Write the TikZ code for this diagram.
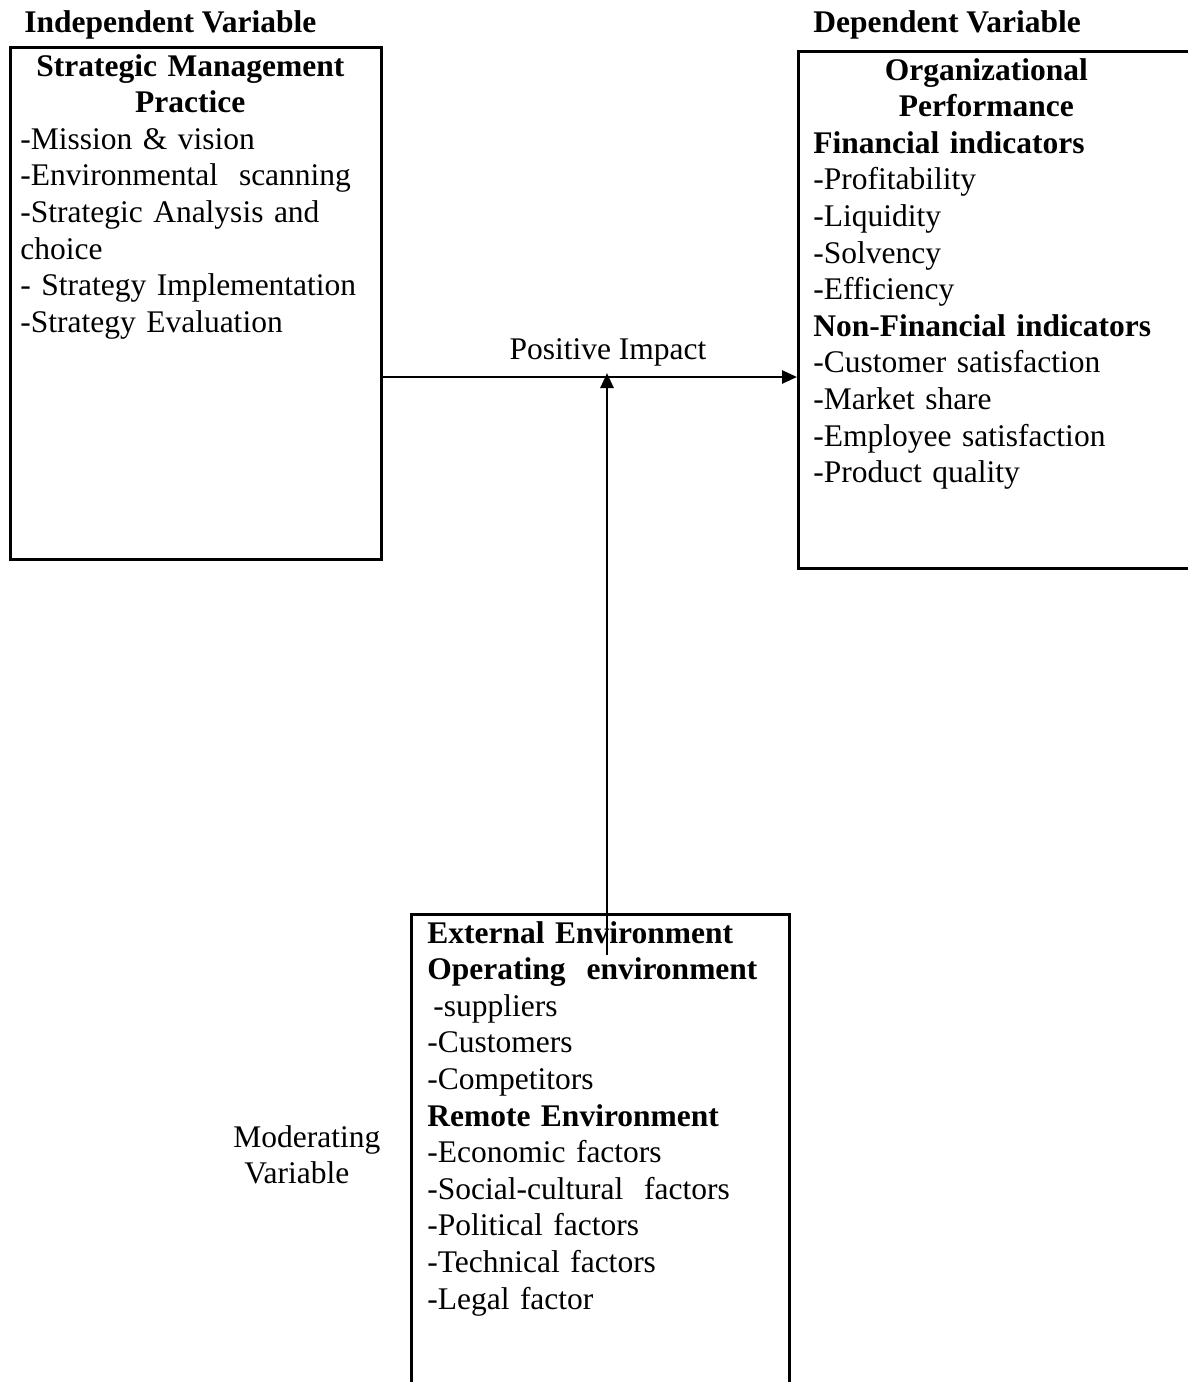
\documentclass[tikz,border=0pt]{standalone}
\usepackage{fontspec}
\setmainfont{Liberation Serif}
\usetikzlibrary{arrows.meta}

\begin{document}
\begin{tikzpicture}
[x = 1pt, y = -1pt, line width = 2.6pt,
  box/.style = {draw, anchor = north west, inner sep = 0pt},
  txt/.style = {anchor = base west, inner sep = 0pt, align = left,
    font = \fontsize{31.5}{36.6}\selectfont},
  arr/.style = {-{Triangle[length = 15pt, width = 13pt]}}]
  \clip (0,0) rectangle (1188,1382);
  \fill[white] (0,0) rectangle (1188,1382);

  % the three boxes
  \node[box, minimum width = 371pt, minimum height = 512pt] (smp) at (9,46) {};
  \node[box, minimum width = 420pt, minimum height = 517pt] (perf) at (797,50) {};
  \node[box, minimum width = 378pt, minimum height = 520pt] (env) at (410,913) {};

  \node[txt] (indep) at (23,32) {\textbf{Independent Variable}};
  \node[txt] (dep) at (812,32) {\textbf{Dependent Variable}};

  \node[txt, text width = 340pt] (smplist) at (19,76)
    {{\centering\bfseries Strategic Management\\ Practice\par}
     -Mission \& vision\\ -Environmental\ \ scanning\\
     -Strategic Analysis and\\ choice\\ - Strategy Implementation\\
     -Strategy Evaluation};
  \node[txt, text width = 346pt] (perflist) at (812,80)
    {{\centering\bfseries Organizational\\ Performance\par}
     \textbf{Financial indicators}\\ -Profitability\\ -Liquidity\\
     -Solvency\\ -Efficiency\\ \textbf{Non-Financial indicators}\\
     -Customer satisfaction\\ -Market share\\ -Employee satisfaction\\
     -Product quality};
  \node[txt, text width = 350pt] (envlist) at (426,943)
    {\textbf{External Environment}\\ \textbf{Operating\ \ environment}\\
     \hspace*{6pt}-suppliers\\ -Customers\\ -Competitors\\
     \textbf{Remote Environment}\\ -Economic factors\\
     -Social-cultural\ \ factors\\ -Political factors\\
     -Technical factors\\ -Legal factor};
  \node[txt, text width = 160pt] (mod) at (232,1147)
    {Moderating\\ \hspace*{11pt}Variable};

  % arrows
  \coordinate (hit) at (607,377);
  \coordinate (foot) at (607,955);
  \node[txt, anchor = base] (impact) at (608,359) {Positive Impact};
  \draw[arr] (smp.east |- hit) -- (perf.west |- hit);
  \draw[arr] (foot) -- ([yshift = 4pt]hit);
\end{tikzpicture}
\end{document}
